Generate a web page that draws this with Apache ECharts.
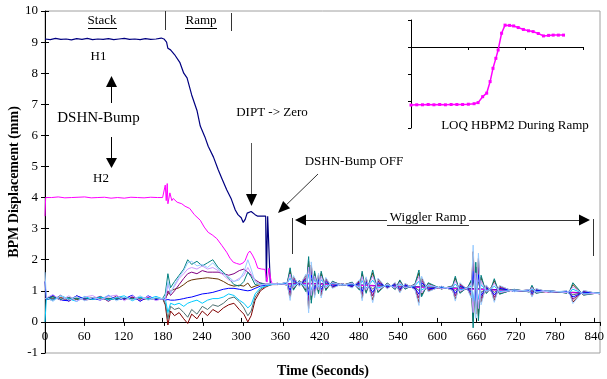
<!DOCTYPE html>
<html>
<head>
<meta charset="utf-8">
<script src="https://cdn.jsdelivr.net/npm/echarts@6/dist/echarts.min.js"></script>
<style>
  html, body { margin: 0; padding: 0; background: #fff; }
  #chart { width: 607px; height: 379px; }
</style>
</head>
<body>
<div id="chart"></div>
<script>
const FONT = "'Liberation Serif', 'Times New Roman', serif";
const INK = "#000";
const BOX = "#a0a0a0";

// H1 / H2 (bumped BPMs)
const h1Time = [0, 8, 16, 24, 32, 40, 48, 56, 64, 72, 80, 88, 96, 104, 112, 120, 128, 136, 144, 152, 160, 168, 176,
  180, 184, 186, 190, 196, 204, 210, 215, 222, 230, 235, 242, 247, 255, 262, 268, 275, 282, 288, 292,
  297, 300, 303, 306, 312, 318, 322, 334, 335, 337, 339, 341, 343, 352, 400, 500, 600, 700, 840];
const h1Value = [9.1, 9.08, 9.12, 9.09, 9.1, 9.07, 9.11, 9.09, 9.12, 9.08, 9.1, 9.09, 9.11, 9.08, 9.1, 9.12, 9.09, 9.1, 9.08, 9.11, 9.09, 9.1, 9.13,
  9.1, 9.0, 8.8, 8.75, 8.6, 8.35, 8.0, 7.85, 7.3, 6.8, 6.3, 5.95, 5.65, 5.3, 4.9, 4.6, 4.25, 3.95, 3.6, 3.45,
  3.35, 3.2, 3.3, 3.5, 3.55, 3.45, 3.4, 3.4, 1.3, 3.4, 3.4, 1.2, 1.25, 1.22, 1.24, 1.17, 1.1, 1.02, 0.92];

const h2Time = [0, 1, 10, 20, 30, 40, 50, 60, 70, 80, 90, 100, 110, 120, 130, 140, 150, 160, 170, 178,
  181, 182, 183.5, 185, 186, 189, 192, 194, 200, 207, 212, 219, 226, 235, 241, 247, 253, 260, 268, 275,
  280, 285, 290, 295, 300, 303, 307, 310, 314, 318, 322, 328, 333, 336, 339, 342, 344, 352, 400, 500, 600, 700, 840];
const h2Value = [3.4, 4.0, 4.0, 4.02, 3.99, 4.0, 4.01, 4.02, 3.99, 4.0, 4.01, 3.98, 4.0, 3.98, 4.01, 4.0, 3.99, 4.01, 4.0, 4.0,
  4.05, 4.4, 3.9, 4.45, 3.8, 4.15, 3.9, 3.97, 3.85, 3.8, 3.72, 3.65, 3.45, 3.27, 3.05, 2.88, 2.8, 2.68, 2.45, 2.24,
  2.05, 1.92, 1.88, 1.85, 1.9, 1.98, 2.2, 2.28, 2.15, 1.98, 1.73, 1.7, 1.69, 1.28, 1.73, 1.34, 1.22, 1.21, 1.23, 1.16, 1.09, 1.01, 0.91];

// the other BPMs, all sampled on one time base
const bundleTime = [0, 2, 12, 24, 36, 48, 60, 72, 84, 96, 108, 120, 132, 144, 156, 168, 178,
  182, 186, 190, 196, 203, 210, 216, 222, 230, 238, 246, 254, 262, 270, 278, 286, 294, 301, 307, 312, 318, 326, 334, 342,
  352, 366, 371, 376, 385, 395, 399, 403, 408, 414, 418, 425, 435, 450, 465, 476, 480, 486, 492, 496,
  504, 518, 530, 537, 545, 560, 566, 570, 580, 600, 617, 621, 628, 640, 645, 648, 652, 656, 660, 668,
  676, 680, 688, 710, 733, 737, 743, 765, 790, 795, 799, 815, 840];

const tealY = [0.75, 0.74, 0.8, 0.72, 0.78, 0.74, 0.77, 0.72, 0.8, 0.75, 0.73, 0.78, 0.74, 0.79, 0.72, 0.76, 0.75,
  0.9, 1.55, 1.1, 1.3, 1.5, 1.7, 2.0, 1.85, 1.95, 1.8, 1.9, 2.0, 1.75, 1.6, 1.4, 1.2, 1.15, 1.3, 1.6, 1.45, 1.2, 1.25, 1.2, 1.22,
  1.24, 1.19, 1.74, 1.02, 1.33, 0.97, 2.10, 0.60, 1.64, 0.91, 1.63, 1.01, 1.31, 1.17, 1.28, 1.02, 1.63, 0.92, 1.35, 1.67,
  0.94, 1.25, 1.04, 1.35, 1.05, 1.22, 1.67, 0.81, 1.26, 1.06, 1.16, 1.47, 0.92, 1.12, 1.34, -0.19, 1.92, 0.03, 1.50, 0.91,
  1.13, 1.39, 0.89, 1.05, 0.96, 1.18, 0.92, 1.01, 0.92, 1.04, 1.26, 0.86, 0.94];
const lightBlueY = [1.6, 0.8, 0.66, 0.85, 0.7, 0.82, 0.68, 0.78, 0.72, 0.86, 0.68, 0.8, 0.7, 0.84, 0.7, 0.78, 0.74,
  0.8, 1.3, 0.9, 1.2, 1.45, 1.65, 1.9, 1.95, 1.8, 1.85, 1.75, 1.9, 1.7, 1.55, 1.45, 1.3, 1.35, 1.6, 2.0, 1.7, 1.3, 1.2, 1.22, 1.22,
  1.20, 1.28, 0.69, 1.49, 1.14, 1.54, 0.29, 1.93, 0.78, 1.57, 0.77, 1.43, 1.08, 1.23, 1.09, 1.36, 0.68, 1.45, 0.97, 0.62,
  1.41, 1.06, 1.27, 0.93, 1.24, 1.03, 0.53, 1.47, 0.97, 1.15, 1.01, 0.67, 1.26, 1.02, 0.77, 2.47, 0.11, 2.21, 0.55, 1.19,
  0.94, 0.63, 1.17, 0.97, 1.04, 0.80, 1.07, 0.95, 1.00, 0.85, 0.59, 1.01, 0.90];
const lavenderY = [0.75, 0.72, 0.88, 0.68, 0.84, 0.66, 0.8, 0.85, 0.7, 0.82, 0.86, 0.68, 0.84, 0.7, 0.82, 0.68, 0.76,
  0.7, 1.2, 0.95, 1.15, 1.4, 1.55, 1.7, 1.75, 1.7, 1.8, 1.7, 1.75, 1.65, 1.5, 1.35, 1.3, 1.4, 1.5, 1.75, 1.55, 1.3, 1.2, 1.2, 1.23,
  1.23, 1.20, 1.54, 1.10, 1.30, 1.08, 1.76, 0.85, 1.48, 1.03, 1.47, 1.09, 1.27, 1.18, 1.25, 1.08, 1.46, 1.02, 1.28, 1.47,
  1.02, 1.22, 1.08, 1.27, 1.09, 1.19, 1.46, 0.93, 1.20, 1.07, 1.13, 1.32, 0.98, 1.10, 1.24, 0.30, 1.58, 0.43, 1.33, 0.96,
  1.10, 1.25, 0.94, 1.03, 0.98, 1.11, 0.95, 1.00, 0.94, 1.01, 1.13, 0.89, 0.93];
const purpleY = [0.75, 0.76, 0.7, 0.86, 0.66, 0.84, 0.7, 0.74, 0.82, 0.66, 0.84, 0.72, 0.8, 0.68, 0.78, 0.74, 0.75,
  0.7, 1.0, 0.85, 1.0, 1.2, 1.4, 1.55, 1.6, 1.55, 1.65, 1.6, 1.6, 1.6, 1.55, 1.5, 1.55, 1.65, 1.7, 1.6, 1.5, 1.35, 1.25, 1.22, 1.22,
  1.21, 1.26, 0.91, 1.39, 1.18, 1.42, 0.67, 1.65, 0.96, 1.43, 0.95, 1.34, 1.13, 1.22, 1.13, 1.29, 0.88, 1.34, 1.05, 0.84,
  1.31, 1.10, 1.22, 1.02, 1.20, 1.07, 0.77, 1.33, 1.03, 1.13, 1.04, 0.84, 1.19, 1.04, 0.89, 1.91, 0.49, 1.75, 0.75, 1.13,
  0.98, 0.79, 1.11, 0.99, 1.02, 0.88, 1.04, 0.96, 0.98, 0.89, 0.73, 0.98, 0.91];
const brownY = [0.75, 0.74, 0.82, 0.7, 0.78, 0.72, 0.76, 0.74, 0.78, 0.72, 0.76, 0.74, 0.8, 0.72, 0.76, 0.74, 0.75,
  0.75, 0.9, 1.0, 1.05, 1.1, 1.2, 1.3, 1.35, 1.38, 1.4, 1.42, 1.4, 1.38, 1.3, 1.2, 1.15, 1.18, 1.15, 1.25, 1.1, 1.15, 1.2, 1.2, 1.22,
  1.24, 1.19, 1.65, 1.05, 1.32, 1.02, 1.95, 0.71, 1.57, 0.96, 1.56, 1.05, 1.29, 1.18, 1.27, 1.05, 1.56, 0.96, 1.32, 1.58,
  0.97, 1.24, 1.06, 1.32, 1.07, 1.21, 1.58, 0.86, 1.23, 1.06, 1.15, 1.41, 0.95, 1.11, 1.30, 0.02, 1.77, 0.20, 1.43, 0.93,
  1.12, 1.33, 0.91, 1.04, 0.97, 1.15, 0.93, 1.00, 0.93, 1.03, 1.20, 0.87, 0.94];
const blueY = [1.3, 0.72, 0.86, 0.7, 0.68, 0.84, 0.74, 0.76, 0.7, 0.85, 0.72, 0.74, 0.86, 0.66, 0.84, 0.72, 0.75,
  0.7, 0.72, 0.7, 0.7, 0.72, 0.75, 0.78, 0.8, 0.85, 0.9, 0.92, 0.95, 1.0, 1.05, 1.08, 1.08, 1.05, 1.02, 1.0, 1.02, 1.08, 1.15, 1.18, 1.2,
  1.21, 1.25, 1.02, 1.34, 1.20, 1.36, 0.86, 1.51, 1.05, 1.36, 1.04, 1.30, 1.15, 1.21, 1.15, 1.25, 0.98, 1.28, 1.09, 0.95,
  1.26, 1.12, 1.20, 1.06, 1.18, 1.09, 0.89, 1.26, 1.06, 1.12, 1.06, 0.92, 1.15, 1.05, 0.95, 1.63, 0.68, 1.52, 0.85, 1.10,
  1.00, 0.87, 1.08, 0.99, 1.02, 0.92, 1.02, 0.97, 0.98, 0.91, 0.80, 0.96, 0.91];
const cyanY = [0.0, 0.75, 0.7, 0.84, 0.74, 0.66, 0.82, 0.72, 0.8, 0.7, 0.78, 0.84, 0.68, 0.8, 0.74, 0.82, 0.74,
  0.75, 0.3, 0.6, 0.55, 0.6, 0.5, 0.6, 0.65, 0.7, 0.6, 0.7, 0.75, 0.75, 0.8, 0.9, 0.85, 0.7, 0.6, 0.45, 0.55, 0.9, 1.1, 1.15, 1.2,
  1.23, 1.22, 1.41, 1.17, 1.27, 1.15, 1.53, 1.02, 1.37, 1.12, 1.36, 1.14, 1.24, 1.19, 1.22, 1.13, 1.33, 1.09, 1.23, 1.34,
  1.09, 1.19, 1.11, 1.22, 1.11, 1.16, 1.31, 1.02, 1.17, 1.09, 1.11, 1.22, 1.03, 1.09, 1.16, 0.65, 1.35, 0.72, 1.20, 1.00,
  1.07, 1.15, 0.98, 1.02, 0.99, 1.06, 0.97, 0.99, 0.95, 0.98, 1.05, 0.91, 0.93];
const grayTealY = [0.75, 0.75, 0.76, 0.74, 0.75, 0.76, 0.74, 0.76, 0.75, 0.74, 0.76, 0.75, 0.74, 0.76, 0.75, 0.74, 0.75,
  0.6, 0.1, 0.5, 0.4, 0.45, 0.3, 0.15, 0.4, 0.25, 0.5, 0.4, 0.55, 0.5, 0.6, 0.75, 0.8, 0.65, 0.45, 0.2, 0.35, 0.8, 1.05, 1.15, 1.2,
  1.22, 1.24, 1.13, 1.29, 1.22, 1.30, 1.05, 1.37, 1.14, 1.29, 1.13, 1.25, 1.18, 1.21, 1.17, 1.22, 1.08, 1.23, 1.13, 1.06,
  1.21, 1.14, 1.17, 1.11, 1.16, 1.11, 1.01, 1.19, 1.09, 1.11, 1.07, 1.01, 1.12, 1.06, 1.01, 1.35, 0.87, 1.29, 0.95, 1.07,
  1.02, 0.95, 1.05, 1.00, 1.01, 0.96, 1.01, 0.97, 0.97, 0.93, 0.87, 0.95, 0.92];
const darkRedY = [0.75, 0.76, 0.74, 0.78, 0.72, 0.76, 0.74, 0.77, 0.73, 0.76, 0.74, 0.75, 0.77, 0.73, 0.76, 0.74, 0.75,
  0.55, -0.1, 0.35, 0.2, 0.3, 0.1, -0.05, 0.25, 0.1, 0.35, 0.2, 0.4, 0.3, 0.45, 0.55, 0.6, 0.4, 0.25, 0.0, 0.2, 0.7, 1.0, 1.12, 1.2,
  1.20, 1.27, 0.77, 1.45, 1.16, 1.50, 0.43, 1.83, 0.85, 1.52, 0.84, 1.40, 1.10, 1.23, 1.11, 1.33, 0.76, 1.41, 1.00, 0.70,
  1.37, 1.08, 1.25, 0.96, 1.23, 1.05, 0.62, 1.42, 0.99, 1.14, 1.02, 0.73, 1.23, 1.03, 0.82, 2.26, 0.25, 2.04, 0.63, 1.17,
  0.96, 0.69, 1.15, 0.98, 1.03, 0.83, 1.06, 0.95, 0.99, 0.87, 0.64, 1.00, 0.90];

// inset: LOQ HBPM2 during ramp (unlabelled axes)
const insetX = [0, 0.1, 0.2, 0.3, 0.4, 0.5, 0.6, 0.7, 0.8, 0.9, 1.0, 1.1, 1.17, 1.25, 1.32, 1.38, 1.43, 1.48, 1.52, 1.58,
  1.64, 1.72, 1.79, 1.87, 1.96, 2.05, 2.13, 2.22, 2.31, 2.4, 2.48, 2.57, 2.66];
const insetY = [-2.15, -2.14, -2.14, -2.13, -2.14, -2.13, -2.14, -2.13, -2.13, -2.13, -2.12, -2.1, -2.06, -1.84, -1.71, -1.28, -0.79, -0.42, -0.11, 0.51,
  0.81, 0.8, 0.78, 0.72, 0.65, 0.6, 0.57, 0.5, 0.41, 0.43, 0.44, 0.44, 0.44];

// dark traces first, pale ones on top (as in the bursts of the original)
const bundle = [
  ["#800000", darkRedY],
  ["#663300", brownY],
  ["#4d7070", grayTealY],
  ["#800080", purpleY],
  ["#0000ff", blueY],
  ["#008080", tealY],
  ["#00ccff", cyanY],
  ["#cc99ff", lavenderY],
  ["#99ccff", lightBlueY],
];

const zip = (xs, ys) => xs.map((x, i) => [x, ys[i]]);

const line = (color, data, width, extra) => Object.assign({
  type: "line",
  data,
  showSymbol: false,
  silent: true,
  lineStyle: { color, width },
  itemStyle: { color },
  emphasis: { disabled: true },
}, extra || {});

const series = [
  line("#000080", zip(h1Time, h1Value), 1.2),
  line("#ff00ff", zip(h2Time, h2Value), 1),
  ...bundle.map(([c, ys]) => line(c, zip(bundleTime, ys), 1)),
  line("#ff00ff", zip(insetX, insetY), 1.5, {
    xAxisIndex: 1, yAxisIndex: 1, showSymbol: true, symbol: "rect", symbolSize: 3,
  }),
];

const txt = (text, x, y, font, extra) => Object.assign({
  type: "text", x, y, silent: true,
  style: {
    text, font: `${font} ${FONT}`, fill: INK,
    textAlign: "center", textVerticalAlign: "middle",
  },
}, extra || {});
const seg = (x1, y1, x2, y2, stroke) => ({
  type: "line", silent: true,
  shape: { x1, y1, x2, y2 },
  style: { stroke: stroke || INK, lineWidth: 1 },
});
const head = (pts) => ({ type: "polygon", silent: true, shape: { points: pts }, style: { fill: INK } });

// grid 0: the plot (-1..10). grid 2: same frame cut at y = 0, carries the
// time labels under the zero line and the inner half of the crossing ticks.
const PLOT_H = 379 - 11 - 26;
const ZERO_BOTTOM = 26 + PLOT_H / 11;
const noSplit = { show: false };

const chart = echarts.init(document.getElementById("chart"));
chart.setOption({
  animation: false,
  backgroundColor: "#fff",
  textStyle: { fontFamily: FONT },
  grid: [
    { left: 45, right: 7, top: 11, bottom: 26, show: true, borderColor: BOX, borderWidth: 1, backgroundColor: "#fff" },
    { left: 411, top: 20, width: 172, height: 108 },
    { left: 45, right: 7, top: 11, bottom: ZERO_BOTTOM },
  ],
  xAxis: [
    {
      type: "value", gridIndex: 0, min: 0, max: 840, interval: 60,
      axisLine: { onZero: true, lineStyle: { color: INK, width: 1 } },
      axisTick: { length: 4, lineStyle: { color: INK } },
      axisLabel: { show: false },
      splitLine: noSplit,
    },
    {
      type: "value", gridIndex: 1, min: 0, max: 3, interval: 1,
      axisLine: { onZero: true, lineStyle: { color: INK, width: 1 } },
      axisTick: { length: 3, lineStyle: { color: INK } },
      axisLabel: { show: false },
      splitLine: noSplit,
    },
    {
      type: "value", gridIndex: 2, position: "bottom", min: 0, max: 840, interval: 60,
      axisLine: { show: false, onZero: false },
      axisTick: { inside: true, length: 4, lineStyle: { color: INK } },
      axisLabel: { color: INK, fontFamily: FONT, fontSize: 13, margin: 8 },
      splitLine: noSplit,
    },
  ],
  yAxis: [
    {
      type: "value", gridIndex: 0, min: -1, max: 10, interval: 1,
      axisLine: { lineStyle: { color: INK, width: 1 } },
      axisTick: { length: 4, lineStyle: { color: INK } },
      axisLabel: { color: INK, fontFamily: FONT, fontSize: 13, margin: 7 },
      splitLine: noSplit,
    },
    {
      type: "value", gridIndex: 1, min: -3, max: 1, interval: 1,
      axisLine: { lineStyle: { color: INK, width: 1 } },
      axisTick: { length: 3, lineStyle: { color: INK } },
      axisLabel: { show: false },
      splitLine: noSplit,
    },
    {
      type: "value", gridIndex: 2, min: 0, max: 10, interval: 1,
      axisLine: { show: false, onZero: false },
      axisTick: { inside: true, length: 4, lineStyle: { color: INK } },
      axisLabel: { show: false },
      splitLine: noSplit,
    },
  ],
  series,
  graphic: {
    elements: [
      txt("BPM Displacement (mm)", 14, 182, "bold 14px", { rotation: Math.PI / 2 }),
      txt("Time (Seconds)", 323, 371, "bold 14px"),
      // Stack / Ramp header
      txt("Stack", 102, 21, "13px"),
      seg(88, 28.5, 117, 28.5),
      seg(165.5, 11, 165.5, 30, "#333"),
      txt("Ramp", 201, 21, "13px"),
      seg(185, 28.5, 217, 28.5),
      seg(231.5, 13, 231.5, 31, "#333"),
      // DSHN-Bump H1 / H2
      txt("H1", 98.5, 57, "13px"),
      txt("H2", 101, 179, "13px"),
      txt("DSHN-Bump", 98.5, 118, "15px"),
      seg(111.5, 87, 111.5, 103),
      head([[106, 87], [117, 87], [111.5, 76]]),
      seg(111.5, 137, 111.5, 158),
      head([[106, 158], [117, 158], [111.5, 168]]),
      // DIPT -> Zero
      txt("DIPT -> Zero", 272, 113, "13px"),
      seg(251.5, 143, 251.5, 195, "#555"),
      head([[246, 194], [257, 194], [251.5, 206]]),
      // DSHN-Bump OFF
      txt("DSHN-Bump OFF", 354, 162, "13px"),
      seg(318, 174, 286.6, 204.6, "#333"),
      head([[278, 213], [290.1, 208.2], [283.1, 201.0]]),
      // Wiggler ramp
      seg(292.5, 218, 292.5, 254, "#333"),
      head([[295, 220], [306, 214.5], [306, 225.5]]),
      seg(306, 220.5, 387, 220.5, "#333"),
      txt("Wiggler Ramp", 428, 218, "13px"),
      seg(387, 225.5, 469, 225.5, "#333"),
      seg(469, 220.5, 579, 220.5, "#333"),
      head([[590, 220], [579, 214.5], [579, 225.5]]),
      seg(593.5, 219, 593.5, 256, "#333"),
      // inset caption
      txt("LOQ HBPM2 During Ramp", 515, 126, "13px"),
    ],
  },
});
</script>
</body>
</html>
